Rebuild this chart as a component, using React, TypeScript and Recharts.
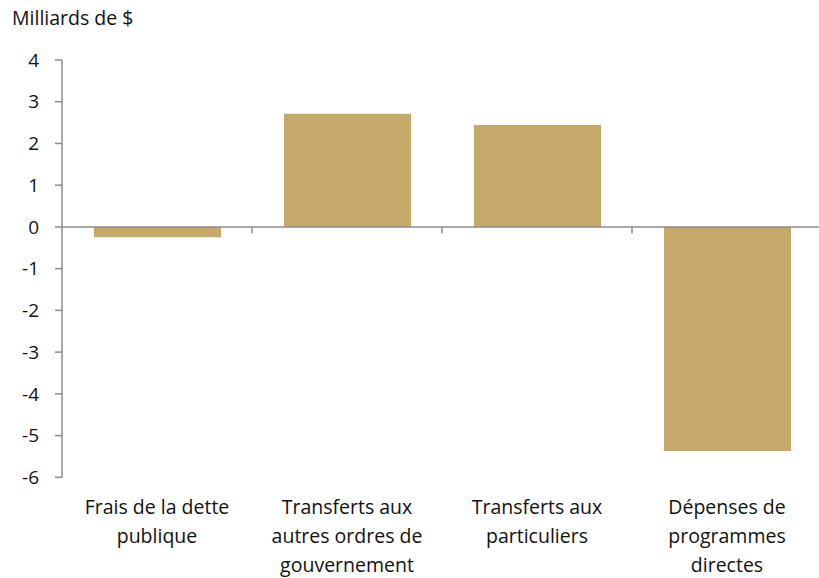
import { Bar, BarChart, ReferenceLine, XAxis, YAxis } from "recharts"

const categories = [
  "Frais de la dette\npublique",
  "Transferts aux\nautres ordres de\ngouvernement",
  "Transferts aux\nparticuliers",
  "Dépenses de\nprogrammes\ndirectes",
]
const values = [-0.25, 2.71, 2.44, -5.37]
const yTicks = [-6, -5, -4, -3, -2, -1, 0, 1, 2, 3, 4]

const data = categories.map((name, i) => ({ name, value: values[i] }))

const FONT = "'Open Sans', 'Noto Sans', sans-serif"
const AXIS = "#8c8c8c"
const GOLD = "#c4a96b"
const TEXT = "#111"

function CategoryTick({ x, y, payload }: any) {
  const lines = String(payload.value).split("\n")
  return (
    <text x={x} y={y + 29} textAnchor="middle" fontFamily={FONT} fontSize={19.5} fill={TEXT}>
      {lines.map((l, i) => (
        <tspan key={i} x={x} dy={i === 0 ? 0 : 29}>
          {l}
        </tspan>
      ))}
    </text>
  )
}

export default function App() {
  return (
    <div style={{ position: "relative", width: 819, height: 578, overflow: "hidden", background: "#fff" }}>
      <style>{"body{margin:0}"}</style>
      <div
        style={{
          position: "absolute",
          left: 12,
          top: 4,
          fontFamily: FONT,
          fontSize: 19.5,
          color: TEXT,
        }}
      >
        Milliards de $
      </div>
      <BarChart
        width={825}
        height={578}
        data={data}
        margin={{ top: 60, right: 3, bottom: 0, left: 0 }}
        barSize={127}
      >
        <XAxis
          dataKey="name"
          height={100.7}
          axisLine={false}
          tickLine={false}
          interval={0}
          tick={<CategoryTick />}
        />
        <YAxis
          width={62}
          domain={[-6, 4]}
          ticks={yTicks}
          interval={0}
          allowDataOverflow
          axisLine={{ stroke: AXIS, strokeWidth: 1.5 }}
          tickLine={{ stroke: AXIS, strokeWidth: 1.5 }}
          tickSize={7}
          tickMargin={16}
          tick={{ fontFamily: FONT, fontSize: 19, fill: TEXT }}
        />
        <Bar dataKey="value" fill={GOLD} isAnimationActive={false} />
        <ReferenceLine y={0} stroke={AXIS} strokeWidth={1.5} />
        {categories.slice(1).map((c) => (
          <ReferenceLine
            key={c}
            position="start"
            segment={[
              { x: c, y: 0 },
              { x: c, y: -0.15 },
            ]}
            stroke={AXIS}
            strokeWidth={1.5}
          />
        ))}
      </BarChart>
    </div>
  )
}
